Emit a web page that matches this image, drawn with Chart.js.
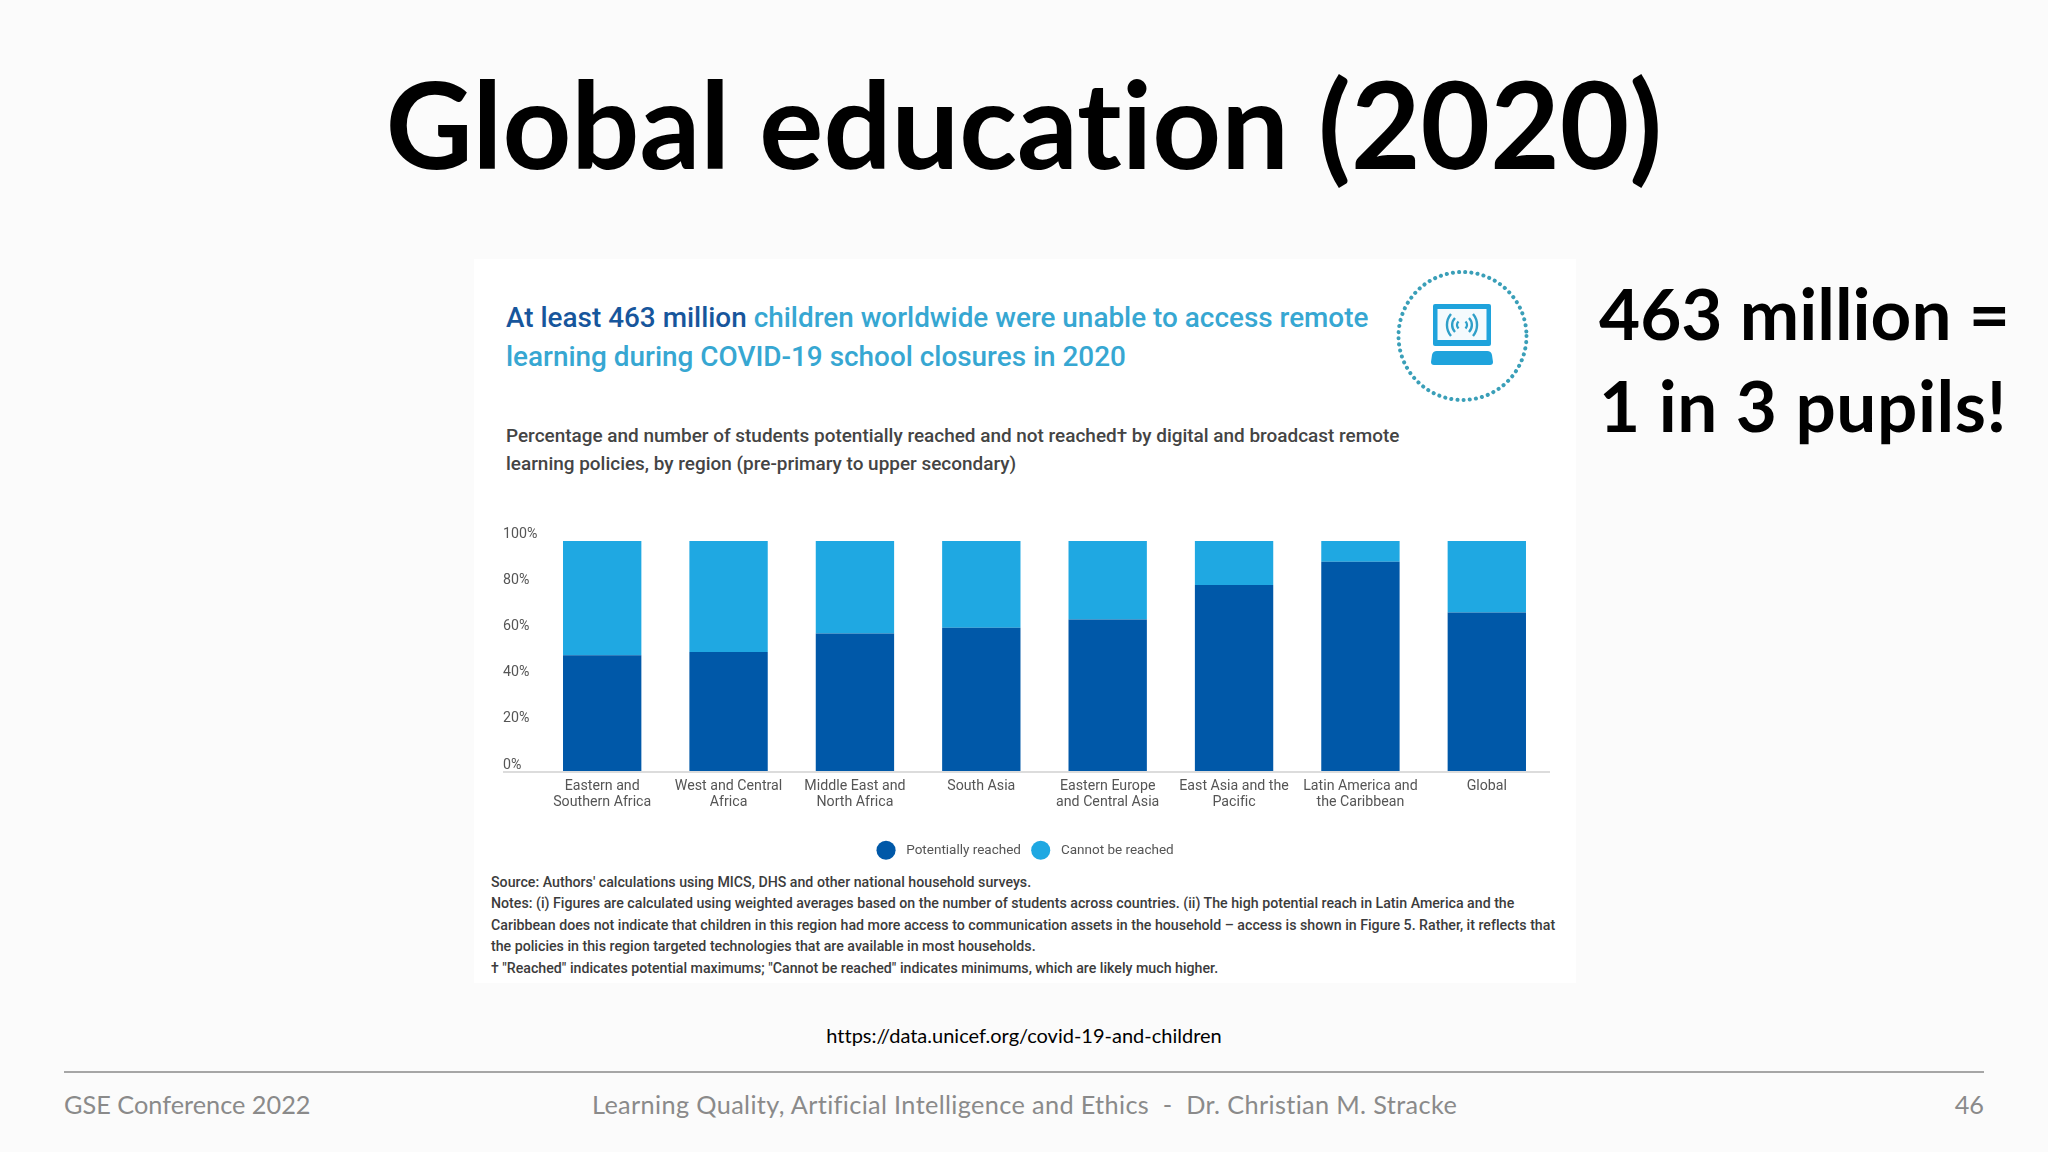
<!DOCTYPE html>
<html>
<head>
<meta charset="utf-8">
<title>Global education (2020)</title>
<script src="https://cdn.jsdelivr.net/npm/chart.js@4"></script>
<style>
  html, body { margin: 0; padding: 0; background: #fbfbfb; }
  #slide { position: relative; width: 2048px; height: 1152px; overflow: hidden; font-family: Lato, sans-serif; font-variant-ligatures: none; }
  .txt { position: absolute; white-space: pre; line-height: 1; }
  #title { left: 0; width: 2048px; text-align: center; top: 63px; font-size: 120px; font-weight: 700; color: #000; }
  #panel { position: absolute; left: 474px; top: 259px; width: 1102px; height: 724px; background: #fff; }
  .big { left: 1599px; font-size: 71px; font-weight: 700; color: #000; }
  .head { left: 506px; font-family: Roboto, sans-serif; font-size: 27.9px; font-weight: 500; color: #37a7d2; }
  .head b { font-weight: 500; color: #17569c; }
  .sub { left: 506px; font-family: Roboto, sans-serif; font-size: 18.95px; font-weight: 500; color: #444; }
  .note { left: 491px; font-family: Roboto, sans-serif; font-size: 14.2px; font-weight: 500; color: #3c3c3c; }
  #url { left: 0; width: 2048px; text-align: center; top: 1025px; font-size: 20px; color: #000; }
  #rule { position: absolute; left: 64px; top: 1071px; width: 1920px; height: 2px; background: #a6a6a6; }
  .foot { top: 1092px; font-size: 25.3px; color: #8a8a8a; }
  #chartBox { position: absolute; left: 474px; top: 510px; width: 1102px; height: 357px; }
  #icon { position: absolute; left: 1390px; top: 264px; }
</style>
</head>
<body>
<div id="slide">
  <div class="txt" id="title">Global education (2020)</div>
  <div id="panel"></div>
  <div class="txt head" style="top:304px"><b>At least 463 million</b> children worldwide were unable to access remote</div>
  <div class="txt head" style="top:343px">learning during COVID-19 school closures in 2020</div>
  <svg id="icon" width="146" height="146" viewBox="0 0 146 146">
    <circle cx="72.5" cy="72" r="64" fill="none" stroke="#3a9fb8" stroke-width="4" stroke-linecap="round" stroke-dasharray="0.1 6.1"/>
    <rect x="43" y="40" width="58" height="42" rx="2" fill="#1fa3dc"/>
    <rect x="47.5" y="45" width="49" height="31" fill="#f4fafd"/>
    <g fill="none" stroke="#2f9fc8" stroke-width="2.4">
      <path d="M68.5 57.5a5 5 0 0 0 0 7M75.5 57.5a5 5 0 0 1 0 7"/>
      <path d="M65 54a10 10 0 0 0 0 14M79 54a10 10 0 0 1 0 14"/>
      <path d="M61 50a17 17 0 0 0 0 22M83 50a17 17 0 0 1 0 22"/>
    </g>
    <path d="M47 87h50a5 5 0 0 1 5 4l1 7a3 3 0 0 1-3 3H44a3 3 0 0 1-3-3l1-7a5 5 0 0 1 5-4z" fill="#1fa3dc"/>
  </svg>
  <div class="txt sub" style="top:427px">Percentage and number of students potentially reached and not reached† by digital and broadcast remote</div>
  <div class="txt sub" style="top:455px">learning policies, by region (pre-primary to upper secondary)</div>
  <div id="chartBox"><canvas id="regionChart"></canvas></div>
  <div class="txt note" style="top:875px">Source: Authors' calculations using MICS, DHS and other national household surveys.</div>
  <div class="txt note" style="top:896px">Notes: (i) Figures are calculated using weighted averages based on the number of students across countries. (ii) The high potential reach in Latin America and the</div>
  <div class="txt note" style="top:918px">Caribbean does not indicate that children in this region had more access to communication assets in the household – access is shown in Figure 5. Rather, it reflects that</div>
  <div class="txt note" style="top:939px">the policies in this region targeted technologies that are available in most households.</div>
  <div class="txt note" style="top:961px">† "Reached" indicates potential maximums; "Cannot be reached" indicates minimums, which are likely much higher.</div>
  <div class="txt big" style="top:277px">463 million =</div>
  <div class="txt big" style="top:369px;letter-spacing:0.6px">1 in 3 pupils!</div>
  <div class="txt" id="url">https://data.unicef.org/covid-19-and-children</div>
  <div id="rule"></div>
  <div class="txt foot" style="left:64px">GSE Conference 2022</div>
  <div class="txt foot" style="left:592px;letter-spacing:0.35px">Learning Quality, Artificial Intelligence and Ethics  -  Dr. Christian M. Stracke</div>
  <div class="txt foot" style="right:64px">46</div>
</div>
<script>
const regions = [
    ['Eastern and', 'Southern Africa'],
    ['West and Central', 'Africa'],
    ['Middle East and', 'North Africa'],
    'South Asia',
    ['Eastern Europe', 'and Central Asia'],
    ['East Asia and the', 'Pacific'],
    ['Latin America and', 'the Caribbean'],
    'Global'
];
const potentiallyReached = [50.5, 52, 60, 62.5, 66, 81, 91, 69];
const cannotBeReached = [49.5, 48, 40, 37.5, 34, 19, 9, 31];

document.addEventListener('DOMContentLoaded', () => {
    new Chart(document.getElementById('regionChart'), {
        type: 'bar',
        data: {
            labels: regions,
            datasets: [
                { label: 'Potentially reached', data: potentiallyReached, backgroundColor: '#0058a8' },
                { label: 'Cannot be reached', data: cannotBeReached, backgroundColor: '#1fa8e2' }
            ]
        },
        options: {
            responsive: true,
            maintainAspectRatio: false,
            animation: false,
            layout: { padding: { left: 29, right: 26, top: 31, bottom: 0 } },
            datasets: { bar: { categoryPercentage: 1, barPercentage: 0.62 } },
            scales: {
                x: {
                    stacked: true,
                    grid: { display: false, drawTicks: false },
                    border: { display: false },
                    ticks: {
                        color: '#555',
                        font: { family: 'Roboto', size: 14.2, lineHeight: '16px' },
                        padding: 6,
                        maxRotation: 0,
                        autoSkip: false
                    },
                    afterFit: (scale) => { scale.height = 58.5; }
                },
                y: {
                    stacked: true,
                    min: 0,
                    max: 100,
                    border: { display: false },
                    // only the zero line shows, it runs left under the tick labels
                    grid: {
                        color: (ctx) => (ctx.tick.value === 0 ? '#dcdcdc' : 'transparent'),
                        drawOnChartArea: true,
                        tickLength: 36,
                        lineWidth: 2
                    },
                    ticks: {
                        stepSize: 20,
                        color: '#555',
                        font: { family: 'Roboto', size: 14.2, lineHeight: '14px' },
                        crossAlign: 'far',
                        // empty second line lifts the label above its tick, like the original
                        callback: (value) => [value + '%', '']
                    },
                    afterFit: (scale) => { scale.width = 36; }
                }
            },
            plugins: {
                tooltip: { enabled: false },
                legend: {
                    position: 'bottom',
                    labels: {
                        usePointStyle: true,
                        pointStyle: 'circle',
                        color: '#555',
                        padding: 13,
                        font: { family: 'Roboto', size: 13.5 },
                        generateLabels: (chart) => Chart.defaults.plugins.legend.labels.generateLabels(chart)
                            .map((item) => ({ ...item, text: '  ' + item.text, lineWidth: 0 }))
                    }
                }
            }
        }
    });
});
</script>
</body>
</html>
